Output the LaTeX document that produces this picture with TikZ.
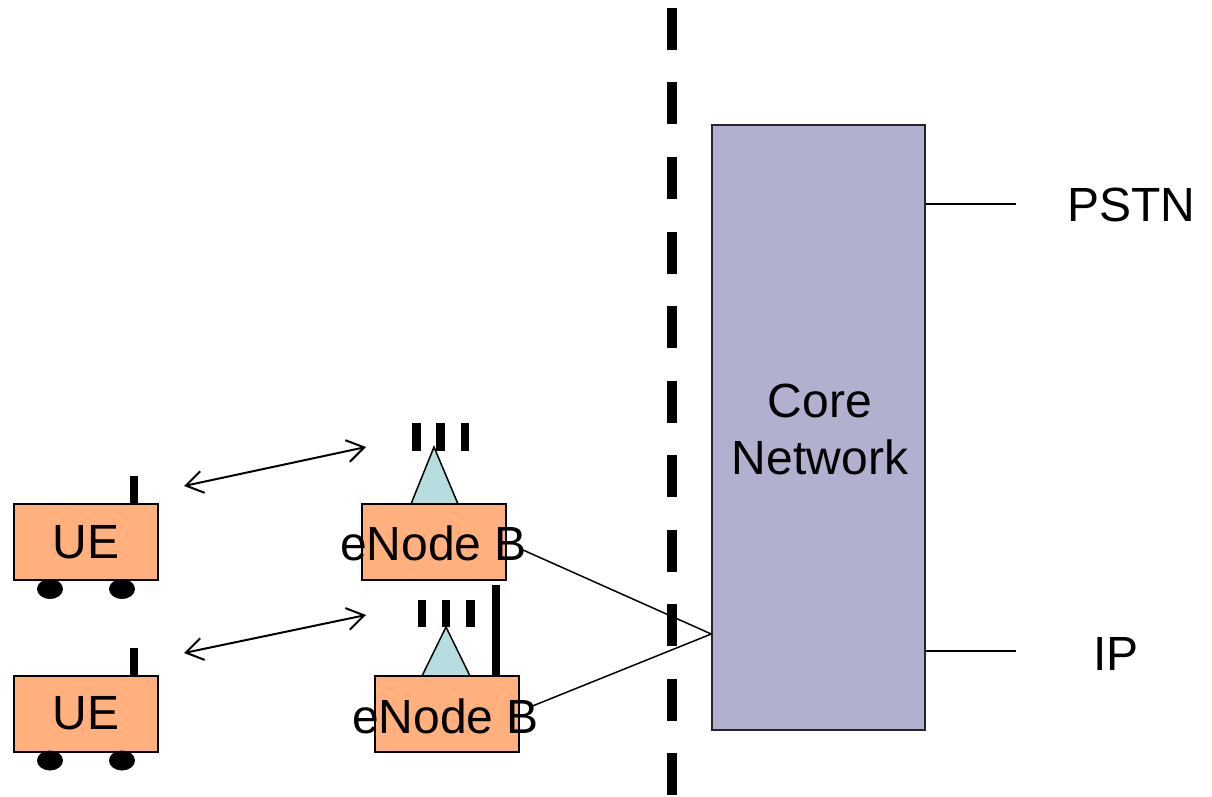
\documentclass[tikz,border=0pt]{standalone}
\usepackage{fontspec}
\setmainfont{Liberation Sans}
\usepackage{tikz}
\usetikzlibrary{arrows.meta}

\definecolor{boxfill}{RGB}{255,176,124}
\definecolor{radiofill}{RGB}{182,222,224}
\definecolor{corefill}{RGB}{177,177,207}

\begin{document}
\begin{tikzpicture}[x=1pt,y=-1pt,
        box/.style={draw,line width=2pt,fill=boxfill,minimum width=144pt,
            minimum height=76pt,inner sep=0pt,font=\fontsize{48}{57}\selectfont},
        lbl/.style={inner sep=0pt,font=\fontsize{48}{57}\selectfont},
        radio/.style={draw,line width=1.5pt,fill=radiofill},
        link/.style={line width=1.5pt},
        air/.style={line width=2pt,
            {Straight Barb[length=17pt,width=22pt]}-{Straight Barb[length=17pt,width=22pt]}}]
        \useasboundingbox (0,0) rectangle (1212,797);

        % Core network
        \node [draw=black!85,line width=1.5pt,fill=corefill,minimum width=213pt,
            minimum height=605pt,inner sep=0pt] (core) at (818.5,427.5) {};
        \node [lbl,align=center] (corelbl) at (820,429) {Core\\Network};
        \node [lbl] (pstn) at (1131,205) {PSTN};
        \node [lbl] (ip) at (1116,654) {IP};
        \draw [link] (core.east |- 0,204) -- ([xshift=-51pt]pstn.west |- 0,204);
        \draw [link] (core.east |- 0,651) -- ([xshift=-77pt]ip.west |- 0,651);

        % Boundary
        \draw [line width=10pt,dash pattern=on 42pt off 32.5pt] (672,8) -- (672,797);

        % UE terminals
        \foreach \n/\y in {1/542,2/713.5} {
            \fill (130,\y-66) rectangle (138,\y-38);
            \node [box] (ue\n) at (86,\y) {UE};
            \fill (50,\y+47) ellipse (13 and 10);
            \fill (122,\y+47) ellipse (13 and 10);
        }

        % eNode B 1
        \path [radio] (411,504) -- (434,447) -- (458,504) -- cycle;
        \fill (412,423) rectangle (421,451);
        \fill (436,423) rectangle (445,451);
        \fill (461,423) rectangle (469,451);
        \node [box] (enb1) at (434,542) {};

        % eNode B 2
        \path [radio] (422,676) -- (446,627) -- (470,676) -- cycle;
        \fill (418,600) rectangle (426,627);
        \fill (442,600) rectangle (450,627);
        \fill (466,600) rectangle (475,627);
        \fill (492,585) rectangle (500,678);
        \node [box] (enb2) at (446.5,713.5) {};

        % Backhaul
        \coordinate (cnin) at (core.west |- 0,634);
        \coordinate (b1) at (523,550);
        \coordinate (b2) at (530,707);
        \draw [link] (b1) -- (cnin) -- (b2);

        \node [lbl] (enb1lbl) at (433.5,543.5) {eNode B};
        \node [lbl] (enb2lbl) at (445.5,716) {eNode B};

        % Radio links
        \coordinate (ue1air) at (184,486);
        \coordinate (enb1air) at (366,447);
        \coordinate (ue2air) at (184,653);
        \coordinate (enb2air) at (366,615);
        \draw [air] (ue1air) -- (enb1air);
        \draw [air] (ue2air) -- (enb2air);

    \end{tikzpicture}
\end{document}
